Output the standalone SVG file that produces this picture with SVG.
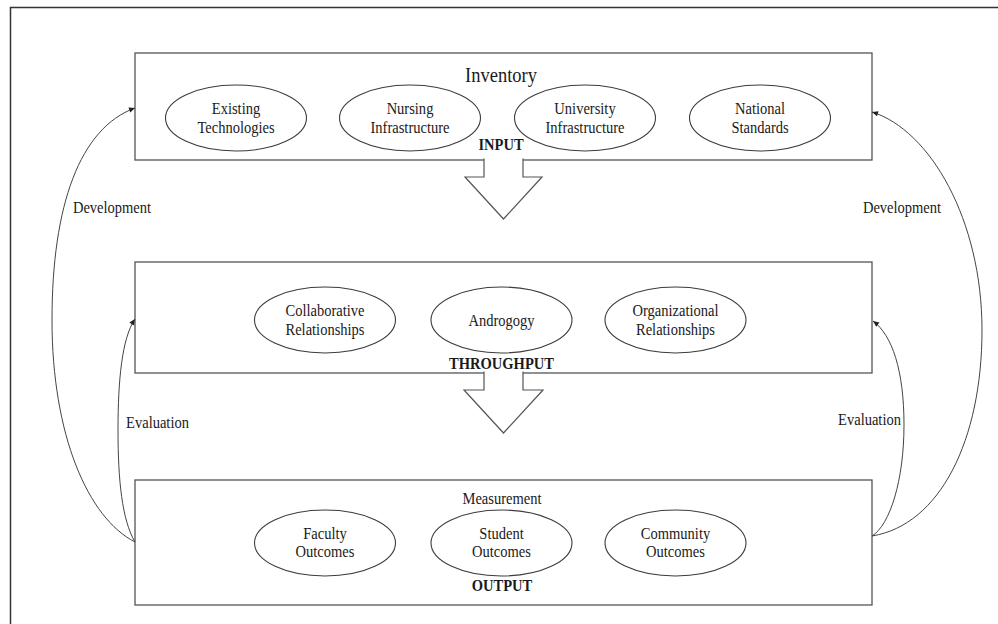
<svg xmlns="http://www.w3.org/2000/svg" width="998" height="624" viewBox="0 0 998 624">
  <style>
    .frame { fill: #fff; stroke: #333; stroke-width: 1.5; }
    .box { fill: #fff; stroke: #555; stroke-width: 1.3; }
    .oval { fill: #fff; stroke: #3c3c3c; stroke-width: 1.1; }
    .t { font-family: "Liberation Serif", "Times New Roman", serif; font-size: 16.5px; fill: #1a1a1a; text-anchor: middle; }
    .big { font-size: 21px; }
    .b { font-weight: bold; }
    .link { fill: none; stroke: #444; stroke-width: 1; }
    .block { fill: #fff; stroke: #555; stroke-width: 1.2; stroke-linejoin: miter; }
  </style>
  <defs>
    <marker id="ah" viewBox="0 0 10 10" refX="10" refY="5" markerWidth="7" markerHeight="6" markerUnits="userSpaceOnUse" orient="auto">
      <path d="M0,0.5 L10,5 L0,9.5 Z" fill="#222"/>
    </marker>
  </defs>

  <!-- page frame -->
  <rect class="frame" x="10.5" y="7.5" width="1000" height="700"/>

  <!-- INPUT stage -->
  <g id="input">
    <rect class="box" x="135" y="53" width="737" height="107"/>
    <text class="t big" transform="translate(501,81.5) scale(0.88,1)">Inventory</text>
    <g id="existing-technologies">
      <ellipse class="oval" cx="236" cy="118" rx="70.5" ry="33"/>
      <text class="t" transform="translate(236,114) scale(0.88,1)"><tspan x="0">Existing</tspan><tspan x="0" dy="19.5">Technologies</tspan></text>
    </g>
    <g id="nursing-infrastructure">
      <ellipse class="oval" cx="410" cy="118" rx="70.5" ry="33"/>
      <text class="t" transform="translate(410,114) scale(0.88,1)"><tspan x="0">Nursing</tspan><tspan x="0" dy="19.5">Infrastructure</tspan></text>
    </g>
    <g id="university-infrastructure">
      <ellipse class="oval" cx="585" cy="118" rx="70.5" ry="33"/>
      <text class="t" transform="translate(585,114) scale(0.88,1)"><tspan x="0">University</tspan><tspan x="0" dy="19.5">Infrastructure</tspan></text>
    </g>
    <g id="national-standards">
      <ellipse class="oval" cx="760" cy="118" rx="70.5" ry="33"/>
      <text class="t" transform="translate(760,114) scale(0.88,1)"><tspan x="0">National</tspan><tspan x="0" dy="19.5">Standards</tspan></text>
    </g>
    <text class="t b" transform="translate(501,150) scale(0.88,1)">INPUT</text>
  </g>

  <!-- THROUGHPUT stage -->
  <g id="throughput">
    <rect class="box" x="135" y="262" width="737" height="111"/>
    <g id="collaborative-relationships">
      <ellipse class="oval" cx="325" cy="320" rx="70.5" ry="33"/>
      <text class="t" transform="translate(325,316) scale(0.88,1)"><tspan x="0">Collaborative</tspan><tspan x="0" dy="19">Relationships</tspan></text>
    </g>
    <g id="androgogy">
      <ellipse class="oval" cx="501.5" cy="320" rx="70.5" ry="33"/>
      <text class="t" transform="translate(501.5,325.5) scale(0.88,1)">Androgogy</text>
    </g>
    <g id="organizational-relationships">
      <ellipse class="oval" cx="675.5" cy="320" rx="70.5" ry="33"/>
      <text class="t" transform="translate(675.5,316) scale(0.88,1)"><tspan x="0">Organizational</tspan><tspan x="0" dy="19">Relationships</tspan></text>
    </g>
    <text class="t b" transform="translate(501.5,369) scale(0.88,1)">THROUGHPUT</text>
  </g>

  <!-- OUTPUT stage -->
  <g id="output">
    <rect class="box" x="135" y="480" width="737" height="125"/>
    <text class="t" transform="translate(502,504) scale(0.88,1)">Measurement</text>
    <g id="faculty-outcomes">
      <ellipse class="oval" cx="325" cy="543" rx="70.5" ry="33"/>
      <text class="t" transform="translate(325,538.5) scale(0.88,1)"><tspan x="0">Faculty</tspan><tspan x="0" dy="19">Outcomes</tspan></text>
    </g>
    <g id="student-outcomes">
      <ellipse class="oval" cx="501.5" cy="543" rx="70.5" ry="33"/>
      <text class="t" transform="translate(501.5,538.5) scale(0.88,1)"><tspan x="0">Student</tspan><tspan x="0" dy="19">Outcomes</tspan></text>
    </g>
    <g id="community-outcomes">
      <ellipse class="oval" cx="675.5" cy="543" rx="70.5" ry="33"/>
      <text class="t" transform="translate(675.5,538.5) scale(0.88,1)"><tspan x="0">Community</tspan><tspan x="0" dy="19">Outcomes</tspan></text>
    </g>
    <text class="t b" transform="translate(502,591) scale(0.88,1)">OUTPUT</text>
  </g>

  <!-- connectors -->
  <g id="connectors">
    <!-- block arrows between stages -->
    <path class="block" d="M484,158.5 V177 H465 L503.5,219 L542,177 H523 V158.5"/>
    <path class="block" d="M484,371.5 V390 H464 L503.5,433 L543,390 H523 V371.5"/>

    <!-- feedback loops on the left -->
    <path class="link" marker-end="url(#ah)" d="M135,542 C88,518 52,435 52,320 C52,205 80,128 135,108"/>
    <path class="link" marker-end="url(#ah)" d="M135,542 C122,520 118,480 118,430 C118,380 122,338 135,319"/>

    <!-- feedback loops on the right -->
    <path class="link" marker-end="url(#ah)" d="M872,536 C940,525 982,440 982,330 C982,220 930,130 872,112"/>
    <path class="link" marker-end="url(#ah)" d="M872,536 C890,525 904,480 904,425 C904,370 892,335 873,321"/>

    <text class="t" transform="translate(112,213) scale(0.88,1)">Development</text>
    <text class="t" transform="translate(902,213) scale(0.88,1)">Development</text>
    <text class="t" transform="translate(157.5,428) scale(0.88,1)">Evaluation</text>
    <text class="t" transform="translate(869.5,425) scale(0.88,1)">Evaluation</text>
  </g>
</svg>
